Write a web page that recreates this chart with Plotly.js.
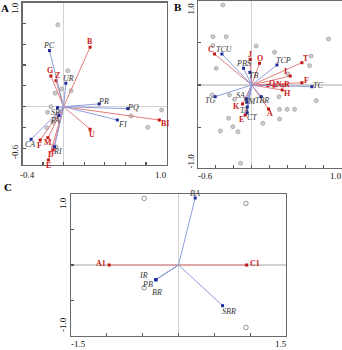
<!DOCTYPE html>
<html><head><meta charset="utf-8">
<script src="https://cdn.plot.ly/plotly-3.0.1.min.js"></script>
<style>html,body{margin:0;padding:0;background:#fff}</style>
</head><body>
<div id="chart" style="width:342px;height:350px"></div>
<script>
// ---------- Panel A data ----------
const aRedLabels = ['B','G','Z','BI','U','F','M','D','E'];
const aRedX = [0.257,-0.124,-0.073,0.930,0.257,-0.228,-0.153,-0.102,-0.148];
const aRedY = [0.571,0.295,0.250,-0.128,-0.217,-0.320,-0.298,-0.416,-0.512];
const aBlueLabels = ['PC','UR','PR','PQ','FI','CA','RI','SR','PA'];
const aBlueX = [-0.138,0.021,0.345,0.623,0.522,-0.316,-0.089,-0.060,-0.045];
const aBlueY = [0.538,0.225,0.026,-0.019,-0.128,-0.313,-0.385,-0.010,-0.085];
const aPtsX = [-0.056,0.041,0.073,-0.020,-0.083,-0.124,-0.157,0.953,0.655,0.817,-0.066,-0.105,-0.163,-0.099,-0.073];
const aPtsY = [0.786,0.346,0.154,0.170,0.129,0.000,-0.054,-0.032,-0.089,-0.198,-0.096,-0.150,-0.202,-0.378,-0.385];

// ---------- Panel B data ----------
const bRedLabels = ['C','J','O','T','I','F','Q','N','R','H','A','K','E'];
const bRedX = [-0.413,-0.017,0.087,0.558,0.428,0.558,0.180,0.261,0.347,0.339,0.187,-0.102,-0.072];
const bRedY = [0.367,0.304,0.257,0.264,0.106,0.027,-0.005,-0.008,-0.010,-0.059,-0.284,-0.225,-0.355];
const bBlueLabels = ['TCU','PBS','TB','TCP','TC','TG','SA','TM','TA','CT','TBR'];
const bBlueX = [-0.331,-0.091,-0.020,0.280,0.669,-0.406,-0.060,-0.055,-0.050,-0.050,0.106];
const bBlueY = [0.367,0.198,0.150,0.237,-0.020,-0.138,-0.165,-0.200,-0.260,-0.330,-0.138];
const bPtsX = [-0.320,-0.431,-0.283,-0.431,-0.394,0.050,0.254,0.854,0.661,0.643,0.402,0.302,0.717,0.309,0.394,0.476,0.309,0.124,-0.257,-0.209,-0.153,-0.347,-0.439,-0.247,-0.191,-0.124];
const bPtsY = [0.947,0.572,0.572,0.465,0.197,0.462,0.387,0.544,0.343,0.229,0.130,-0.138,-0.185,-0.288,-0.288,-0.288,-0.402,-0.454,-0.394,-0.493,-0.552,-0.544,-0.118,-0.118,-0.169,-0.927];

// ---------- Panel C data ----------
const cRedLabels = ['A1','C1'];
const cRedX = [-0.968,0.950];
const cRedY = [0,0];
const cBlueLabels = ['BA','IR','PB','BR','SBR'];
const cBlueX = [0.233,-0.316,-0.316,-0.316,0.615];
const cBlueY = [0.944,-0.207,-0.207,-0.207,-0.573];
const cPtsX = [-0.479,0.941,-0.479,0.941];
const cPtsY = [0.938,0.868,-0.320,-0.879];

// ---------- styles ----------
const RED_LINE='#e47c7c', RED_MK='#c41414', RED_TXT='#cc1a1a';
const BLUE_LINE='#8e9cd8', BLUE_MK='#1c2c9c', BLUE_TXT='#333333';
const SERIF='Liberation Serif, Times New Roman, serif';

// label pixel offsets [dx, dy(down)] from the arrow tip
const aRedOff = [[0,-6],[-1,-5.5],[1,-5],[6,4],[2,5.5],[-1,5],[0,5],[-2,4.5],[0,5]];
const aBlueOff = [[0,-5],[3,-4.5],[4.5,-2.5],[5,-1.5],[5,5],[-1,5],[3,5],[-2,5],[-4,5]];
const bRedOff = [[-4,-4.5],[0,-4.5],[0,-4.5],[4.5,-4.5],[-5,-4.5],[5,-2],[4,-1.5],[4,-1],[4,-1],[5,3.5],[1.5,4.5],[-6,2],[-3.5,4.5]];
const bBlueOff = [[3,-4.5],[0,-5],[4,3],[6.5,-4.5],[6,-1.5],[-5,4],[-6,-3],[3.5,-0.5],[-2.5,3.5],[4.5,4.5],[0.5,4]];
const cRedOff = [[-8,-2],[8,-2]];
const cBlueOff = [[0,-4.5],[-12,-4.5],[-8,5],[1,13],[6.5,6]];

function vecLines(X,Y){const xs=[],ys=[];X.forEach((v,i)=>{xs.push(0,v,null);ys.push(0,Y[i],null);});return {xs,ys};}

const annotations=[];
function group(X,Y,labels,off,lineColor,mkColor,txtColor,bold,italic,xa,ya){
  const L=vecLines(X,Y);
  labels.forEach((t,i)=>{
    annotations.push({text:t,x:X[i],y:Y[i],xref:xa,yref:ya,showarrow:false,xanchor:'center',yanchor:'middle',
      xshift:off[i][0],yshift:-off[i][1],
      font:{family:SERIF,size:8,color:txtColor,weight:bold?'bold':'normal',style:italic?'italic':'normal'}});
  });
  return [
    {type:'scatter',mode:'lines',x:L.xs,y:L.ys,xaxis:xa,yaxis:ya,line:{color:lineColor,width:1},hoverinfo:'skip',showlegend:false,cliponaxis:false},
    {type:'scatter',mode:'markers',x:X,y:Y,xaxis:xa,yaxis:ya,
     marker:{symbol:'square',size:3,color:mkColor},showlegend:false,cliponaxis:false}
  ];
}
function pts(X,Y,xa,ya,open){
  return {type:'scatter',mode:'markers',x:X,y:Y,xaxis:xa,yaxis:ya,showlegend:false,
    marker:{symbol:'circle',size:open?4.5:4,color:open?'rgba(0,0,0,0)':'#cdcdcd',line:{color:open?'#666':'#999',width:0.7}}};
}

const traces=[
  pts(aPtsX,aPtsY,'x','y',false),
  ...group(aRedX,aRedY,aRedLabels,aRedOff,RED_LINE,RED_MK,RED_TXT,true,false,'x','y'),
  ...group(aBlueX,aBlueY,aBlueLabels,aBlueOff,BLUE_LINE,BLUE_MK,BLUE_TXT,false,true,'x','y'),
  pts(bPtsX,bPtsY,'x2','y2',false),
  ...group(bRedX,bRedY,bRedLabels,bRedOff,RED_LINE,RED_MK,RED_TXT,true,false,'x2','y2'),
  ...group(bBlueX,bBlueY,bBlueLabels,bBlueOff,BLUE_LINE,BLUE_MK,BLUE_TXT,false,true,'x2','y2'),
  pts(cPtsX,cPtsY,'x3','y3',true),
  ...group(cRedX,cRedY,cRedLabels,cRedOff,RED_LINE,RED_MK,RED_TXT,true,false,'x3','y3'),
  ...group(cBlueX,cBlueY,cBlueLabels,cBlueOff,BLUE_LINE,BLUE_MK,BLUE_TXT,false,true,'x3','y3')
];

const W=342,H=350;
const dx=(a,b)=>[a/W,b/W];
const dy=(top,bot)=>[1-bot/H,1-top/H];
function ax(domain,range,dtick,tick0,anchor){
  return {domain,range,dtick,tick0,anchor,showticklabels:false,showgrid:false,
    zeroline:true,zerolinecolor:'#d2d2d2',zerolinewidth:1.5,
    showline:true,mirror:true,linecolor:'#6a6a6a',linewidth:1.2,
    ticks:'inside',ticklen:3,tickwidth:1.2,tickcolor:'#555',fixedrange:true};
}
function ann(text,x,y,opts){return Object.assign({text,x:x/W,y:1-y/H,xref:'paper',yref:'paper',showarrow:false,
  font:{family:SERIF,size:9,color:'#111'},xanchor:'center',yanchor:'middle'},opts||{});}

annotations.push(
  ann('A',5,8,{font:{family:SERIF,size:11,color:'#000',weight:'bold'}}),
  ann('B',178,7,{font:{family:SERIF,size:11,color:'#000',weight:'bold'}}),
  ann('C',8,187,{font:{family:SERIF,size:11,color:'#000',weight:'bold'}}),
  ann('-0.4',27.5,175), ann('1.0',161,175),
  ann('1.0',15,8,{textangle:-90}), ann('-0.6',15,152,{textangle:-90}),
  ann('-0.6',205,175.5), ann('1.0',336,175.5),
  ann('1.0',190.5,8,{textangle:-90}), ann('-1.0',190.5,161,{textangle:-90}),
  ann('-1.5',78,344), ann('1.5',281,344),
  ann('1.0',63,203,{textangle:-90}), ann('-1.0',63,325,{textangle:-90})
);

const layout={
  width:W,height:H,margin:{l:0,r:0,t:0,b:0},paper_bgcolor:'#fff',plot_bgcolor:'#fff',showlegend:false,
  xaxis:ax(dx(22.5,166.5),[-0.4,1.0],0.2,-0.4,'y'),
  yaxis:ax(dy(2.5,165),[-0.56,1.0],0.2,0,'x'),
  xaxis2:ax(dx(197.7,341.7),[-0.6,1.0],0.2,-0.6,'y2'),
  yaxis2:ax(dy(1,168),[-0.982,0.994],0.5,0,'x2'),
  xaxis3:ax(dx(71,286),[-1.5,1.5],0.5,-1.5,'y3'),
  yaxis3:ax(dy(194,336),[-1.0,1.0],0.5,-1,'x3'),
  annotations
};
Plotly.newPlot('chart',traces,layout,{staticPlot:true,displayModeBar:false});
</script>
</body></html>
